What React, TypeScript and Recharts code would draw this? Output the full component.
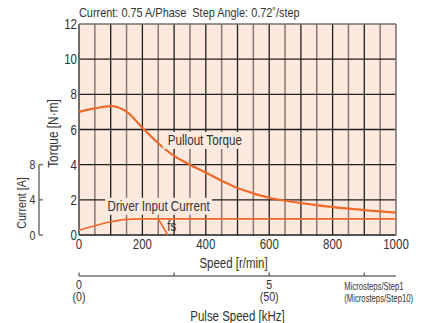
import {
    ComposedChart,
    Line,
    XAxis,
    YAxis,
    CartesianGrid,
    ReferenceLine,
    ReferenceDot
} from "recharts"

const FONT = '"Liberation Sans", Arial, sans-serif'
const SX = 0.82 // squeeze to mimic a condensed face
const ORANGE = "#f26a2b"
const INK = "#333333"
const AXIS_GRAY = "#707070"
const PLOT_BG = "#fde9de"

// axis ids: recharts stacks same-side axes by id, "1" sits next to the plot
const SPEED = "x1"
const PULSE = "x2"
const TORQUE = "y1"
const CURRENT = "y2"

// pullout torque [N·m] vs speed [r/min]
const torqueSpeed = [0, 50, 100, 150, 200, 250, 300, 350, 400, 450, 500, 550, 600, 650, 700, 750, 800, 850, 900, 950, 1000]
const torqueValues = [7.0, 7.2, 7.33, 7.02, 6.1, 5.22, 4.5, 4.0, 3.55, 3.08, 2.67, 2.37, 2.12, 1.95, 1.82, 1.7, 1.59, 1.5, 1.42, 1.34, 1.27]

// driver input current [A]
const currentSpeed = [0, 50, 100, 150, 200, 400, 600, 800, 1000]
const currentValues = [0.55, 1.05, 1.5, 1.78, 1.83, 1.83, 1.83, 1.83, 1.83]

// fs line (on current scale)
const fsSpeed = [250, 280]
const fsValues = [1.83, 0]

const speedTicks = [0, 200, 400, 600, 800, 1000]
const torqueTicks = [0, 2, 4, 6, 8, 10, 12]
const currentTicks = [0, 4, 8]
const pulseTicksKHz = [0, 2.5, 5, 7.5]
const pulseTickText: Record<string, string[]> = { "0": ["0", "(0)"], "5": ["5", "(50)"] }
const microstepText = ["Microsteps/Step1", "(Microsteps/Step10)"]

// 0.72°/step -> 500 pulses per revolution: 1 kHz = 120 r/min
const RPM_PER_KHZ = 60 / 500 * 1000
const pulseTicks = pulseTicksKHz.map((k) => k * RPM_PER_KHZ)

const gridMajor = [0, 100, 200, 300, 400, 500, 600, 700, 800, 900]
const gridMinor = [50, 150, 250, 350, 450, 550, 650, 750, 850, 950]
const gridRows = [0, 2, 4, 6, 8, 10]

const annotations = [
    { text: "Pullout Torque", s: 397, t: 5.12, w: 84, bg: true },
    { text: "Driver Input Current", s: 251, t: 1.38, w: 107, bg: true },
    { text: "fs", s: 293, t: 0.25, w: 0, bg: false }
]

const toRows = (xs: number[], ys: number[]) => xs.map((s, i) => ({ s, v: ys[i] }))
const torqueData = toRows(torqueSpeed, torqueValues)
const currentData = toRows(currentSpeed, currentValues)
const fsData = toRows(fsSpeed, fsValues)

function NText({ x, y, size, anchor = "start", rotate = 0, sx = SX, children }: any) {
    return (
        <text
            transform={`translate(${x} ${y}) rotate(${rotate}) scale(${sx} 1)`}
            textAnchor={anchor}
            fontSize={size}
            fontFamily={FONT}
            fill={INK}
        >
            {children}
        </text>
    )
}

function SpeedTick({ x, y, payload }: any) {
    return <NText x={x} y={y + 14} size={14} anchor="middle">{payload.value}</NText>
}

function TorqueTick({ x, y, payload }: any) {
    return <NText x={x} y={y + 5} size={14} anchor="end">{payload.value}</NText>
}

function CurrentTick({ x, y, payload }: any) {
    return (
        <g>
            <line x1={x} y1={y} x2={x + 4} y2={y} stroke={AXIS_GRAY} strokeWidth={1.5} />
            <NText x={x - 3.5} y={y + 4.5} size={13} anchor="end">{payload.value}</NText>
        </g>
    )
}

function PulseTick({ x, y, payload }: any) {
    const khz = payload.value / RPM_PER_KHZ
    const lines = pulseTickText[String(khz)]
    return (
        <g>
            <line x1={x} y1={y - 3.5} x2={x} y2={y} stroke={AXIS_GRAY} strokeWidth={1.5} />
            {lines &&
                lines.map((l, i) => (
                    <NText key={i} x={x} y={y + 12.5 + i * 12} size={13} anchor="middle">{l}</NText>
                ))}
            {khz === 7.5 &&
                microstepText.map((l, i) => (
                    <NText key={i} x={x - 20} y={y + 14 + i * 12} size={11.3} sx={0.68}>{l}</NText>
                ))}
        </g>
    )
}

const boxLabel = (text: string, w: number, bg: boolean) => (p: any) => (
    <g>
        {bg && <rect x={p.cx - w / 2} y={p.cy - 13} width={w} height={17} fill={PLOT_BG} />}
        <NText x={p.cx} y={p.cy} size={14.2} anchor="middle">{text}</NText>
    </g>
)

export default function App() {
    return (
        <div style={{ position: "absolute", left: 0, top: 0, width: 423, height: 323, background: "#fff" }}>
            <div
                style={{
                    position: "absolute",
                    left: 79,
                    top: 6,
                    fontFamily: FONT,
                    fontSize: 13.3,
                    lineHeight: "14px",
                    color: INK,
                    whiteSpace: "pre",
                    transform: `scaleX(${SX})`,
                    transformOrigin: "0 0"
                }}
            >
                {"Current: 0.75 A/Phase  Step Angle: 0.72˚/step"}
            </div>
            <ComposedChart width={423} height={323} margin={{ top: 24, right: 27, bottom: 0, left: 0 }}>
                <XAxis
                    xAxisId={SPEED}
                    dataKey="s"
                    type="number"
                    domain={[0, 1000]}
                    ticks={speedTicks}
                    height={41}
                    axisLine={false}
                    tickLine={false}
                    tickSize={0}
                    tickMargin={0}
                    tick={<SpeedTick />}
                    label={{
                        content: (p: any) => (
                            <NText x={p.viewBox.x + p.viewBox.width / 2 - 4} y={p.viewBox.y + 33} size={14} anchor="middle">
                                Speed [r/min]
                            </NText>
                        )
                    }}
                />
                <XAxis
                    xAxisId={PULSE}
                    dataKey="s"
                    type="number"
                    domain={[0, 1000]}
                    ticks={pulseTicks}
                    height={47}
                    axisLine={{ stroke: AXIS_GRAY, strokeWidth: 1.5 }}
                    tickLine={false}
                    tickSize={0}
                    tickMargin={0}
                    tick={<PulseTick />}
                    label={{
                        content: (p: any) => (
                            <NText x={p.viewBox.x + p.viewBox.width / 2} y={p.viewBox.y + 45} size={14} anchor="middle">
                                Pulse Speed [kHz]
                            </NText>
                        )
                    }}
                />
                <YAxis
                    yAxisId={TORQUE}
                    type="number"
                    domain={[0, 12]}
                    ticks={torqueTicks}
                    width={40}
                    axisLine={false}
                    tickLine={false}
                    tickSize={0}
                    tickMargin={2}
                    tick={<TorqueTick />}
                    label={{
                        content: (p: any) => (
                            <NText x={p.viewBox.x + 19} y={p.viewBox.y + p.viewBox.height / 2 + 4} size={14.5} anchor="middle" rotate={-90}>
                                Torque [N·m]
                            </NText>
                        )
                    }}
                />
                <YAxis
                    yAxisId={CURRENT}
                    type="number"
                    domain={[0, 24]}
                    ticks={currentTicks}
                    width={39}
                    axisLine={false}
                    tickLine={false}
                    tickSize={0}
                    tickMargin={0}
                    tick={<CurrentTick />}
                    label={{
                        content: (p: any) => (
                            <NText x={p.viewBox.x + 26} y={p.viewBox.y + p.viewBox.height - 32} size={13} anchor="middle" rotate={-90}>
                                Current [A]
                            </NText>
                        )
                    }}
                />
                <CartesianGrid
                    xAxisId={SPEED}
                    yAxisId={TORQUE}
                    fill={PLOT_BG}
                    horizontal={false}
                    verticalValues={gridMinor}
                    stroke="#8a7870"
                    strokeWidth={1.5}
                />
                <CartesianGrid
                    xAxisId={SPEED}
                    yAxisId={TORQUE}
                    verticalValues={gridMajor}
                    horizontalValues={gridRows}
                    stroke="#1e1e1e"
                    strokeWidth={1.3}
                />
                <CartesianGrid
                    xAxisId={SPEED}
                    yAxisId={TORQUE}
                    verticalValues={[0, 1000]}
                    horizontalValues={[12]}
                    stroke={AXIS_GRAY}
                    strokeWidth={1.5}
                />
                {annotations.map((a) => (
                    <ReferenceDot
                        key={a.text}
                        xAxisId={SPEED}
                        yAxisId={TORQUE}
                        x={a.s}
                        y={a.t}
                        r={0}
                        shape={boxLabel(a.text, a.w, a.bg)}
                    />
                ))}
                <ReferenceLine
                    xAxisId={SPEED}
                    yAxisId={CURRENT}
                    ifOverflow="visible"
                    segment={[
                        { x: -126.2, y: 0 },
                        { x: -126.2, y: 8 }
                    ]}
                    stroke={AXIS_GRAY}
                    strokeWidth={1.5}
                />
                {/* current curves share the same speed range and feed the pulse axis */}
                <Line
                    xAxisId={PULSE}
                    yAxisId={CURRENT}
                    data={currentData}
                    dataKey="v"
                    type="monotone"
                    stroke={ORANGE}
                    strokeWidth={1.6}
                    dot={false}
                    isAnimationActive={false}
                />
                <Line
                    xAxisId={PULSE}
                    yAxisId={CURRENT}
                    data={fsData}
                    dataKey="v"
                    type="linear"
                    stroke={ORANGE}
                    strokeWidth={1.6}
                    dot={false}
                    isAnimationActive={false}
                />
                <Line
                    xAxisId={SPEED}
                    yAxisId={TORQUE}
                    data={torqueData}
                    dataKey="v"
                    type="monotone"
                    stroke={ORANGE}
                    strokeWidth={2.2}
                    dot={false}
                    isAnimationActive={false}
                />
            </ComposedChart>
        </div>
    )
}
